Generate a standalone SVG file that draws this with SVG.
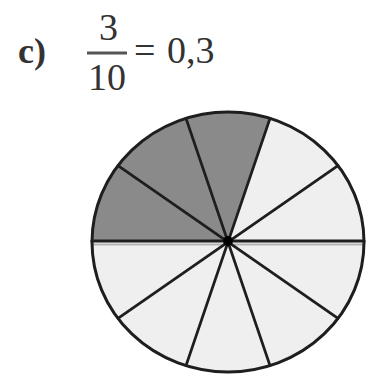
<svg xmlns="http://www.w3.org/2000/svg" width="371" height="382" viewBox="0 0 371 382">
<style>
.t{font-family:"Liberation Serif","Times New Roman",serif;fill:#333;}
.sp{stroke:#1e1e1e;stroke-width:2.8;fill:none;stroke-linecap:round;}
</style>
<rect width="371" height="382" fill="#fff"/>
<g id="label">
<text class="t" x="18" y="63" font-size="36" font-weight="bold">c)</text>
<text class="t" x="99" y="40" font-size="38">3</text>
<line x1="87" y1="53" x2="127" y2="53" stroke="#555" stroke-width="3"/>
<text class="t" x="88" y="90" font-size="38">10</text>
<text class="t" x="134" y="63" font-size="38">=</text>
<text class="t" x="167" y="63" font-size="38">0,3</text>
</g>
<g id="circle">
<ellipse cx="228" cy="242" rx="136" ry="130" fill="#efefef"/>
<path d="M228,242 L270,118.4 A136,130 0 0 0 92,242 Z" fill="#8a8a8a"/>
<line x1="92" y1="244.5" x2="364" y2="244.5" stroke="#b5b5b5" stroke-width="2"/>
<g class="sp">
<line x1="92" y1="241" x2="364" y2="241" stroke-width="3.2"/>
<line x1="338" y1="165.6" x2="118" y2="318.4"/>
<line x1="270" y1="118.4" x2="186" y2="365.6"/>
<line x1="186" y1="118.4" x2="270" y2="365.6"/>
<line x1="118" y1="165.6" x2="338" y2="318.4"/>
<ellipse cx="228" cy="242" rx="136" ry="130" stroke-width="3"/>
</g>
<circle cx="228" cy="241" r="5" fill="#000"/>
</g>
</svg>
